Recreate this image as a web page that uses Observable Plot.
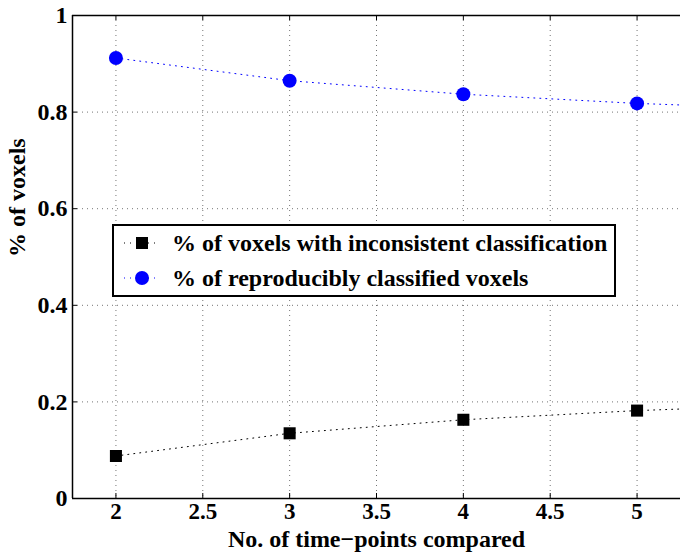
<!DOCTYPE html>
<html><head><meta charset="utf-8">
<script src="https://cdn.jsdelivr.net/npm/d3@7"></script>
<script src="https://cdn.jsdelivr.net/npm/@observablehq/plot@0.6"></script>
<style>
body{margin:0;background:#fff;}
#wrap{position:relative;width:680px;height:552px;overflow:hidden;font-family:"Times New Roman","Liberation Serif",Times,"DejaVu Serif",serif;font-weight:bold;}
#wrap svg text{font-family:"Times New Roman","Liberation Serif",Times,"DejaVu Serif",serif !important;font-weight:bold;}
#legend{position:absolute;left:112px;top:224px;width:500px;height:69px;border:2px solid #000;background:#fff;}
.row{position:absolute;left:0;height:36px;display:flex;align-items:center;font-size:24px;white-space:nowrap;}
.row svg{margin-left:8px;margin-right:10px;}
</style></head><body><div id="wrap"></div>
<script>
const timePoints = [2, 3, 4, 5, 6];
const reproducible = [0.912, 0.865, 0.837, 0.818, 0.805];
const inconsistent = [0.088, 0.135, 0.163, 0.182, 0.195];
const xTicks = [2, 2.5, 3, 3.5, 4, 4.5, 5];
const yTicks = [0, 0.2, 0.4, 0.6, 0.8, 1];
const seriesLabels = ["% of voxels with inconsistent classification", "% of reproducibly classified voxels"];
const xLabel = "No. of time\u2212points compared";
const yLabel = "% of voxels";

const repData = timePoints.map((t, i) => ({x: t, y: reproducible[i]}));
const incData = timePoints.map((t, i) => ({x: t, y: inconsistent[i]}));

const W = 680, H = 552, mL = 72, mR = 0, mT = 15, mB = 54;
const fw = W - mL - mR, fh = H - mT - mB;
const FONT = "'Times New Roman', 'Liberation Serif', Times, serif";
const dotted = {stroke: "#000", strokeOpacity: 0.55, strokeDasharray: "1,4", strokeWidth: 1};

const plot = Plot.plot({
  width: W, height: H,
  marginLeft: mL, marginRight: mR, marginTop: mT, marginBottom: mB,
  style: {fontFamily: FONT, fontWeight: "bold", fontSize: "24px", background: "#fff", color: "#000"},
  x: {domain: [1.75, 5.25]},
  y: {domain: [0, 1]},
  marks: [
    Plot.ruleX(xTicks, dotted),
    Plot.ruleY(yTicks, dotted),
    Plot.ruleX(xTicks, {stroke: "#000", strokeWidth: 1, insetTop: fh - 5}),
    Plot.ruleX(xTicks, {stroke: "#000", strokeWidth: 1, insetBottom: fh - 5}),
    Plot.ruleY(yTicks, {stroke: "#000", strokeWidth: 1, insetRight: fw - 5}),
    Plot.ruleY([0, 1], {stroke: "#000", strokeWidth: 1.5}),
    Plot.ruleX([1.75], {stroke: "#000", strokeWidth: 1.5}),
    Plot.line(incData, {x: "x", y: "y", stroke: "#000", strokeDasharray: "1,5", strokeWidth: 1, clip: true}),
    Plot.line(repData, {x: "x", y: "y", stroke: "#0000ff", strokeDasharray: "1,5", strokeWidth: 1, clip: true}),
    Plot.dot(incData, {x: "x", y: "y", symbol: "square", r: 6.8, fill: "#000", stroke: "none", clip: true}),
    Plot.dot(repData, {x: "x", y: "y", symbol: "circle", r: 7, fill: "#0000ff", stroke: "none", clip: true}),
    Plot.axisX(xTicks, {tickSize: 0, tickPadding: 4, fontSize: 23, label: null, tickFormat: d => String(d)}),
    Plot.axisY(yTicks, {tickSize: 0, tickPadding: 5, fontSize: 24, label: null, tickFormat: d => String(d)}),
    Plot.text([xLabel], {frameAnchor: "bottom", dy: 48, fontSize: 24, fontWeight: "bold"}),
    Plot.text([yLabel], {frameAnchor: "left", dx: -55, rotate: -90, fontSize: 24, fontWeight: "bold"})
  ]
});
const wrap = document.getElementById("wrap");
wrap.appendChild(plot);

const leg = document.createElement("div");
leg.id = "legend";
const samples = [
  `<svg width="40" height="20"><line x1="2" y1="10" x2="38" y2="10" stroke="#000" stroke-dasharray="1,5"/><rect x="14" y="4" width="12" height="12" fill="#000"/></svg>`,
  `<svg width="40" height="20"><line x1="2" y1="10" x2="38" y2="10" stroke="#0000ff" stroke-dasharray="1,5"/><circle cx="20" cy="10" r="7" fill="#0000ff"/></svg>`
];
seriesLabels.forEach((lab, i) => {
  const r = document.createElement("div");
  r.className = "row";
  r.style.top = (i === 0 ? -1 : 34) + "px";
  r.innerHTML = samples[i] + `<span></span>`;
  r.querySelector("span").textContent = lab;
  leg.appendChild(r);
});
wrap.appendChild(leg);
</script>
</body></html>
